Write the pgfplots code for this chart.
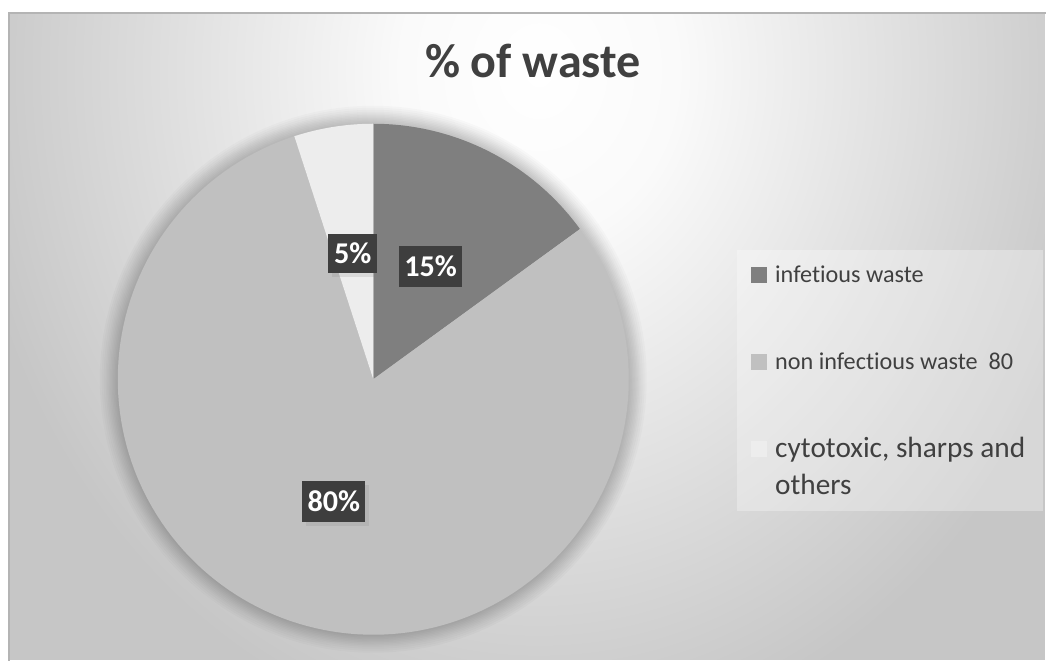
\documentclass[border=0pt]{standalone}
\usepackage{pgfplots}
\pgfplotsset{compat=1.18}
\usepackage{fontspec}
\setmainfont{Carlito}[Ligatures=NoCommon]
\usetikzlibrary{shadows}
\definecolor{cInf}{HTML}{7F7F7F}
\definecolor{cNon}{HTML}{C0C0C0}
\definecolor{cCyt}{HTML}{EDEDED}
\definecolor{txt}{HTML}{404040}
\definecolor{lbl}{HTML}{3E3E3E}
\definecolor{bgout}{HTML}{C6C6C6}
\definecolor{framec}{HTML}{B4B4B4}
\pgfdeclareradialshading{bgshade}{\pgfpoint{0bp}{0bp}}{color(0bp)=(white); color(6bp)=(white!98!black); color(25bp)=(bgout); color(50bp)=(bgout)}
\begin{document}
\begin{tikzpicture}
\fill[white] (0,0) rectangle (10.47,6.61);
\begin{scope}
\clip (0.09,0) rectangle (10.47,6.48);
\fill[bgout] (0.09,-0.01) rectangle (10.48,6.48);
\shade[shading=bgshade] (5.4,5.9) ellipse (5.8cm and 6.8cm);
\end{scope}
\draw[framec, line width=0.6pt] (0.09,-0.01) -- (0.09,6.48) -- (10.48,6.48);
\fill[white, opacity=0.3] (7.38,1.49) rectangle (10.45,4.10);
\begin{axis}[width=10.47cm, height=6.61cm, scale only axis, hide axis,
  xmin=0, xmax=1047, ymin=0, ymax=661, clip=false]
% soft halo round the pie
\fill[black, opacity=0.018] (axis cs:374,281) circle[radius=2.74cm];
\fill[black, opacity=0.018] (axis cs:374,281) circle[radius=2.72cm];
\fill[black, opacity=0.018] (axis cs:374,281) circle[radius=2.70cm];
\fill[black, opacity=0.018] (axis cs:374,281) circle[radius=2.68cm];
\fill[black, opacity=0.018] (axis cs:374,281) circle[radius=2.665cm];
\fill[black, opacity=0.018] (axis cs:374,281) circle[radius=2.65cm];
\fill[black, opacity=0.018] (axis cs:374,281) circle[radius=2.635cm];
\fill[black, opacity=0.018] (axis cs:374,281) circle[radius=2.62cm];
\fill[black, opacity=0.018] (axis cs:374,281) circle[radius=2.605cm];
\fill[black, opacity=0.018] (axis cs:374,281) circle[radius=2.59cm];
\fill[black, opacity=0.018] (axis cs:374,281) circle[radius=2.575cm];
% slices: infectious 15%, non infectious 80%, cytotoxic 5% (clockwise from 90 deg)
\addplot[draw=none, fill=cInf, domain=36:90, samples=40, variable=\t]
  ({374+256*cos(\t)}, {281+256*sin(\t)}) -- (axis cs:374,281) -- cycle;
\addplot[draw=none, fill=cNon, domain=-252:36, samples=150, variable=\t]
  ({374+256*cos(\t)}, {281+256*sin(\t)}) -- (axis cs:374,281) -- cycle;
\addplot[draw=none, fill=cCyt, domain=90:108, samples=15, variable=\t]
  ({374+256*cos(\t)}, {281+256*sin(\t)}) -- (axis cs:374,281) -- cycle;
% data labels
\tikzset{lab/.style={fill=lbl, text=white, inner sep=0pt, font=\fontsize{8.6pt}{9pt}\selectfont\bfseries,
  drop shadow={shadow xshift=0.04cm, shadow yshift=-0.04cm, opacity=0.18}}}
\node[lab, minimum width=0.49cm, minimum height=0.40cm] at (axis cs:353.5,407) {5\%};
\node[lab, minimum width=0.63cm, minimum height=0.42cm] at (axis cs:431.5,394) {15\%};
\node[lab, minimum width=0.63cm, minimum height=0.41cm] at (axis cs:334.5,158.5) {80\%};
% title
\node[anchor=base, text=txt, font=\fontsize{13.7pt}{15pt}\selectfont\bfseries] at (axis cs:534,583) {\% of waste};
% legend
\fill[cInf] (axis cs:752,377) rectangle (axis cs:768,393);
\fill[cNon] (axis cs:752,290) rectangle (axis cs:768,306);
\fill[cCyt] (axis cs:752,203) rectangle (axis cs:768,219);
\node[anchor=base west, inner sep=0pt, text=txt, font=\fontsize{6.9pt}{8pt}\selectfont] at (axis cs:776,378) {infetious waste};
\node[anchor=base west, inner sep=0pt, text=txt, font=\fontsize{6.9pt}{8pt}\selectfont] at (axis cs:776,291) {non infectious waste~~80};
\node[anchor=base west, inner sep=0pt, text=txt, font=\fontsize{8.35pt}{10pt}\selectfont] at (axis cs:776,203) {cytotoxic, sharps and};
\node[anchor=base west, inner sep=0pt, text=txt, font=\fontsize{8.35pt}{10pt}\selectfont] at (axis cs:776,166) {others};
\end{axis}
\end{tikzpicture}
\end{document}
